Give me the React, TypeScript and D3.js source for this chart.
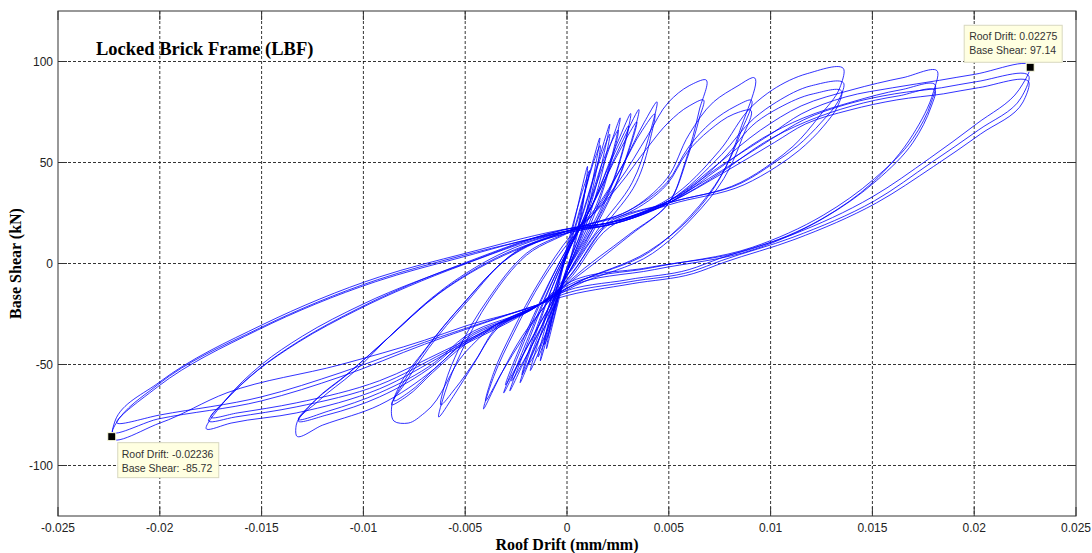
import React from 'react';
import * as d3 from 'd3';

type Pt = [number, number];

// axis ticks
const xTicks = [-0.025, -0.02, -0.015, -0.01, -0.005, 0, 0.005, 0.01, 0.015, 0.02, 0.025];
const xTickLabels = ['-0.025', '-0.02', '-0.015', '-0.01', '-0.005', '0', '0.005', '0.01', '0.015', '0.02', '0.025'];
const yTicks = [-100, -50, 0, 50, 100];
const yTickLabels = ['-100', '-50', '0', '50', '100'];

// load history, one array per cycle (roof drift, base shear in kN)
const cycle01: Pt[] = [[0.0000, -4], [0.0005, 14], [0.0008, 30], [0.0010, 48], [0.0007, 36], [0.0003, 18], [-0.0002, -2], [-0.0006, -20], [-0.0010, -42], [-0.0007, -30], [-0.0003, -14]];
const cycle02: Pt[] = [[0.0001, 0], [0.0005, 16], [0.0008, 32], [0.0011, 46], [0.0007, 34], [0.0002, 16], [-0.0003, -4], [-0.0007, -22], [-0.0011, -40], [-0.0008, -32], [-0.0003, -12]];
const cycle03: Pt[] = [[0.0000, -2], [0.0007, 16], [0.0012, 38], [0.0016, 62], [0.0012, 48], [0.0005, 22], [-0.0003, -4], [-0.0008, -24], [-0.0013, -48], [-0.0009, -34], [-0.0004, -16]];
const cycle04: Pt[] = [[0.0000, -4], [0.0007, 14], [0.0012, 34], [0.0016, 58], [0.0013, 50], [0.0006, 24], [-0.0002, -2], [-0.0008, -22], [-0.0014, -46], [-0.0010, -36], [-0.0004, -14]];
const cycle05: Pt[] = [[0.0000, -2], [0.0008, 18], [0.0016, 45], [0.0021, 69], [0.0014, 46], [0.0006, 20], [-0.0004, -6], [-0.0012, -32], [-0.0018, -53], [-0.0010, -34], [-0.0004, -16]];
const cycle06: Pt[] = [[0.0000, -4], [0.0009, 18], [0.0017, 44], [0.0021, 64], [0.0015, 48], [0.0007, 22], [-0.0003, -4], [-0.0012, -30], [-0.0019, -50], [-0.0011, -36], [-0.0005, -18]];
const cycle07: Pt[] = [[0.0000, -4], [0.0010, 18], [0.0019, 42], [0.0026, 72], [0.0019, 52], [0.0008, 22], [-0.0005, -6], [-0.0015, -34], [-0.0023, -59], [-0.0014, -38], [-0.0005, -18]];
const cycle08: Pt[] = [[0.0000, -4], [0.0011, 18], [0.0020, 44], [0.0025, 66], [0.0019, 54], [0.0009, 24], [-0.0004, -4], [-0.0015, -32], [-0.0022, -55], [-0.0015, -40], [-0.0006, -20]];
const cycle09: Pt[] = [[0.0000, -4], [0.0012, 18], [0.0023, 42], [0.0031, 74], [0.0024, 58], [0.0012, 28], [-0.0004, -2], [-0.0018, -36], [-0.0028, -63], [-0.0018, -42], [-0.0006, -18]];
const cycle10: Pt[] = [[0.0000, -6], [0.0013, 18], [0.0024, 44], [0.0030, 68], [0.0024, 56], [0.0011, 26], [-0.0005, -4], [-0.0018, -34], [-0.0027, -58], [-0.0019, -44], [-0.0007, -20]];
const cycle11: Pt[] = [[0.0000, -4], [0.0013, 18], [0.0026, 44], [0.0035, 76], [0.0027, 60], [0.0013, 30], [-0.0004, 0], [-0.0020, -36], [-0.0031, -64], [-0.0021, -44], [-0.0008, -20]];
const cycle12: Pt[] = [[0.0000, -6], [0.0014, 18], [0.0027, 46], [0.0034, 70], [0.0027, 58], [0.0012, 28], [-0.0005, -2], [-0.0020, -34], [-0.0030, -60], [-0.0022, -46], [-0.0009, -22]];
const cycle13: Pt[] = [[0.0000, -6], [0.0016, 18], [0.0032, 40], [0.0040, 62], [0.0044, 80], [0.0038, 70], [0.0028, 50], [0.0014, 26], [0.0002, 12], [-0.0012, -8], [-0.0026, -34], [-0.0036, -56], [-0.0041, -72], [-0.0033, -56], [-0.0022, -36], [-0.0010, -20]];
const cycle14: Pt[] = [[0.0000, -8], [0.0018, 18], [0.0034, 40], [0.0041, 62], [0.0043, 74], [0.0037, 66], [0.0027, 48], [0.0013, 26], [0.0002, 14], [-0.0013, -8], [-0.0027, -34], [-0.0036, -54], [-0.0040, -68], [-0.0032, -54], [-0.0021, -36], [-0.0010, -20]];
const cycle15: Pt[] = [[0.0002, -8], [0.0030, 14], [0.0050, 30], [0.0058, 50], [0.0065, 76], [0.0068, 91], [0.0060, 88], [0.0050, 80], [0.0040, 64], [0.0025, 40], [0.0008, 20], [-0.0020, 4], [-0.0038, -18], [-0.0052, -44], [-0.0060, -64], [-0.0063, -76], [-0.0056, -66], [-0.0046, -50], [-0.0034, -32], [-0.0013, -20]];
const cycle16: Pt[] = [[0.0003, -8], [0.0031, 14], [0.0050, 30], [0.0059, 52], [0.0065, 72], [0.0067, 81], [0.0060, 78], [0.0050, 70], [0.0040, 58], [0.0025, 38], [0.0008, 20], [-0.0020, 5], [-0.0039, -18], [-0.0053, -42], [-0.0060, -60], [-0.0062, -70], [-0.0055, -62], [-0.0045, -48], [-0.0034, -31], [-0.0013, -20]];
const cycle17: Pt[] = [[0.0004, -10], [0.0040, 6], [0.0060, 22], [0.0075, 42], [0.0085, 66], [0.0091, 92], [0.0084, 88], [0.0072, 80], [0.0060, 64], [0.0049, 42], [0.0030, 26], [0.0006, 18], [-0.0025, 6], [-0.0050, -20], [-0.0068, -42], [-0.0080, -60], [-0.0086, -70], [-0.0085, -78], [-0.0078, -79], [-0.0070, -74], [-0.0050, -44], [-0.0036, -31], [-0.0013, -20]];
const cycle18: Pt[] = [[0.0004, -10], [0.0041, 6], [0.0061, 24], [0.0076, 44], [0.0085, 64], [0.0090, 81], [0.0083, 78], [0.0071, 70], [0.0060, 58], [0.0049, 40], [0.0030, 26], [0.0006, 18], [-0.0026, 5], [-0.0051, -20], [-0.0069, -42], [-0.0081, -60], [-0.0086, -70], [-0.0079, -66], [-0.0066, -54], [-0.0050, -40], [-0.0036, -31], [-0.0013, -20]];
const cycle18b: Pt[] = [[0.0004, -11], [0.0042, 5], [0.0062, 23], [0.0077, 42], [0.0086, 62], [0.0090, 76], [0.0082, 74], [0.0070, 66], [0.0059, 55], [0.0049, 39], [0.0030, 25], [0.0006, 18], [-0.0027, 4], [-0.0052, -21], [-0.0070, -43], [-0.0082, -60], [-0.0085, -68], [-0.0078, -64], [-0.0065, -52], [-0.0050, -39], [-0.0036, -31], [-0.0013, -20]];
const cycle19: Pt[] = [[0.0000, -6], [0.0020, 20], [0.0050, 30], [0.0085, 40], [0.0101, 50], [0.0111, 58], [0.0124, 73], [0.0134, 87], [0.0136, 96], [0.0118, 94], [0.0101, 86], [0.0091, 78], [0.0075, 56], [0.0050, 32], [0.0020, 20], [0.0004, 17], [-0.0030, 6], [-0.0060, -12], [-0.0085, -34], [-0.0105, -54], [-0.0122, -68], [-0.0133, -80], [-0.0133, -85], [-0.0120, -80], [-0.0092, -70], [-0.0065, -52], [-0.0050, -38], [-0.0013, -20]];
const cycle20: Pt[] = [[0.0000, -8], [0.0020, 19], [0.0050, 30], [0.0086, 40], [0.0102, 50], [0.0113, 58], [0.0125, 70], [0.0133, 80], [0.0136, 89], [0.0120, 88], [0.0103, 80], [0.0092, 72], [0.0076, 54], [0.0050, 31], [0.0020, 19], [0.0004, 16], [-0.0030, 5], [-0.0062, -14], [-0.0087, -36], [-0.0107, -54], [-0.0124, -68], [-0.0132, -78], [-0.0118, -75], [-0.0092, -66], [-0.0065, -50], [-0.0050, -37], [-0.0013, -20]];
const cycle20b: Pt[] = [[0.0000, -9], [0.0021, 18], [0.0050, 29], [0.0087, 39], [0.0103, 48], [0.0114, 56], [0.0126, 68], [0.0133, 78], [0.0135, 85], [0.0121, 84], [0.0104, 77], [0.0093, 70], [0.0077, 52], [0.0050, 30], [0.0020, 19], [0.0004, 16], [-0.0031, 4], [-0.0063, -15], [-0.0088, -37], [-0.0108, -55], [-0.0125, -69], [-0.0132, -77], [-0.0117, -73], [-0.0092, -64], [-0.0065, -49], [-0.0050, -36], [-0.0013, -20]];
const cycle21: Pt[] = [[0.0000, -10], [0.0040, -2], [0.0090, 7], [0.0125, 22], [0.0150, 40], [0.0170, 64], [0.0180, 85], [0.0182, 95], [0.0165, 92], [0.0140, 86], [0.0115, 78], [0.0095, 66], [0.0075, 50], [0.0050, 31], [0.0020, 20], [0.0005, 18], [-0.0050, 0], [-0.0100, -20], [-0.0130, -36], [-0.0150, -50], [-0.0168, -68], [-0.0177, -82], [-0.0165, -79], [-0.0133, -74], [-0.0092, -62], [-0.0060, -45], [-0.0013, -20]];
const cycle22: Pt[] = [[0.0000, -11], [0.0042, -2], [0.0091, 8], [0.0126, 24], [0.0151, 42], [0.0170, 62], [0.0179, 80], [0.0181, 88], [0.0164, 86], [0.0140, 80], [0.0116, 72], [0.0096, 62], [0.0076, 48], [0.0050, 30], [0.0020, 20], [0.0005, 18], [-0.0051, 0], [-0.0102, -22], [-0.0131, -38], [-0.0151, -52], [-0.0168, -68], [-0.0176, -78], [-0.0163, -76], [-0.0133, -71], [-0.0092, -60], [-0.0060, -44], [-0.0013, -20]];
const cycle22b: Pt[] = [[0.0000, -12], [0.0043, -3], [0.0092, 7], [0.0127, 23], [0.0152, 41], [0.0170, 60], [0.0179, 78], [0.0181, 85], [0.0163, 83], [0.0140, 78], [0.0117, 70], [0.0097, 60], [0.0077, 46], [0.0050, 30], [0.0020, 19], [0.0005, 17], [-0.0052, -1], [-0.0103, -23], [-0.0132, -39], [-0.0152, -53], [-0.0168, -68], [-0.0175, -76], [-0.0162, -74], [-0.0133, -69], [-0.0092, -58], [-0.0060, -43], [-0.0013, -20]];
const cycle23: Pt[] = [[-0.0004, -15], [0.0030, -8], [0.0060, -3], [0.0075, 2.5], [0.0110, 14], [0.0150, 33], [0.0178, 52], [0.0201, 69], [0.0222, 86], [0.02275, 97.14], [0.0200, 93.6], [0.0183, 90.7], [0.0160, 87], [0.0137, 82.5], [0.0115, 74], [0.0100, 64], [0.0075, 48], [0.0050, 31], [0.0020, 20], [0.0005, 18], [-0.0050, 5], [-0.0092, -6.6], [-0.0150, -30.5], [-0.0200, -58.6], [-0.0222, -78], [-0.02236, -85.72], [-0.0200, -79], [-0.0167, -64], [-0.0111, -50], [-0.0070, -38], [-0.0050, -31], [-0.0013, -20]];
const cycle24: Pt[] = [[-0.0004, -16], [0.0031, -9], [0.0061, -4], [0.0076, 1.5], [0.0111, 13], [0.0151, 31], [0.0179, 50], [0.0202, 66], [0.0223, 82], [0.0227, 92], [0.0201, 90], [0.0184, 87], [0.0161, 84], [0.0138, 79], [0.0116, 71], [0.0101, 62], [0.0076, 46], [0.0050, 31], [0.0020, 20], [0.0005, 17], [-0.0051, 4], [-0.0093, -8], [-0.0151, -32], [-0.0201, -60], [-0.0222, -80], [-0.0223, -82], [-0.0201, -77], [-0.0150, -68], [-0.0111, -56], [-0.0070, -40], [-0.0013, -20]];
const cycle25: Pt[] = [[-0.0004, -17], [0.0032, -10], [0.0062, -5], [0.0077, 0.5], [0.0112, 12], [0.0152, 30], [0.0180, 48], [0.0203, 64], [0.0224, 80], [0.0227, 89], [0.0202, 87], [0.0185, 84], [0.0162, 81], [0.0139, 76], [0.0117, 69], [0.0102, 60], [0.0077, 45], [0.0050, 30], [0.0020, 19], [0.0005, 17], [-0.0052, 3], [-0.0094, -9], [-0.0152, -33], [-0.0201, -61], [-0.0221, -79], [-0.0200, -75], [-0.0150, -66], [-0.0111, -54], [-0.0070, -39], [-0.0013, -20]];

const history = [cycle01, cycle02, cycle03, cycle04, cycle05, cycle06, cycle07, cycle08, cycle09, cycle10, cycle11, cycle12, cycle13, cycle14, cycle15, cycle16, cycle17, cycle18, cycle18b, cycle19, cycle20, cycle20b, cycle21, cycle22, cycle22b, cycle23, cycle24, cycle25];

// data tips
const tipMax: Pt = [0.02275, 97.14];
const tipMin: Pt = [-0.02236, -85.72];

const W = 1092;
const H = 553;
const left = 58, right = 1076, top = 11, bottom = 516;

export default function App() {
  const x = d3.scaleLinear().domain([-0.025, 0.025]).range([left, right]);
  const y = d3.scaleLinear().domain([-125, 125]).range([bottom, top]);

  const line = d3.line<Pt>()
    .x(d => x(d[0]))
    .y(d => y(d[1]))
    .curve(d3.curveCatmullRom.alpha(1));

  const allPts: Pt[] = ([] as Pt[]).concat(...history);

  const tickLen = 9;
  const maxX = x(tipMax[0]), maxY = y(tipMax[1]);
  const minX = x(tipMin[0]), minY = y(tipMin[1]);
  const sans = 'Liberation Sans, Arial, sans-serif';
  const serif = 'Liberation Serif, Times New Roman, serif';

  return (
    <svg width={W} height={H} style={{ position: 'absolute', left: 0, top: 0, background: '#fff' }}>
      <rect x={0} y={0} width={W} height={H} fill="#fff" />

      {/* grid */}
      {xTicks.slice(1, -1).map(t => (
        <line key={'gx' + t} x1={x(t)} x2={x(t)} y1={top} y2={bottom} stroke="#000" strokeWidth={0.8} strokeDasharray="3,2" />
      ))}
      {yTicks.map(t => (
        <line key={'gy' + t} x1={left} x2={right} y1={y(t)} y2={y(t)} stroke="#000" strokeWidth={0.8} strokeDasharray="3,2" />
      ))}

      {/* hysteresis */}
      <path d={line(allPts) || ''} fill="none" stroke="#0000ff" strokeWidth={0.95} strokeOpacity={0.85} strokeLinejoin="round" />

      {/* box and ticks */}
      <rect x={left} y={top} width={right - left} height={bottom - top} fill="none" stroke="#333" strokeWidth={1} />
      {xTicks.map(t => (
        <g key={'tx' + t}>
          <line x1={x(t)} x2={x(t)} y1={bottom} y2={bottom - tickLen} stroke="#333" />
          <line x1={x(t)} x2={x(t)} y1={top} y2={top + tickLen} stroke="#333" />
        </g>
      ))}
      {yTicks.map(t => (
        <g key={'ty' + t}>
          <line x1={left} x2={left + tickLen} y1={y(t)} y2={y(t)} stroke="#333" />
          <line x1={right} x2={right - tickLen} y1={y(t)} y2={y(t)} stroke="#333" />
        </g>
      ))}

      {/* tick labels */}
      {xTicks.map((t, i) => (
        <text key={'lx' + t} x={x(t)} y={bottom + 16} textAnchor="middle" fontFamily={sans} fontSize={12} fill="#222">
          {xTickLabels[i]}
        </text>
      ))}
      {yTicks.map((t, i) => (
        <text key={'ly' + t} x={left - 5} y={y(t) + 4} textAnchor="end" fontFamily={sans} fontSize={12} fill="#222">
          {yTickLabels[i]}
        </text>
      ))}

      {/* axis labels and title */}
      <text x={(left + right) / 2} y={550} textAnchor="middle" fontFamily={serif} fontWeight="bold" fontSize={16} fill="#000">
        Roof Drift (mm/mm)
      </text>
      <text transform={`translate(21,${(top + bottom) / 2}) rotate(-90)`} textAnchor="middle" fontFamily={serif} fontWeight="bold" fontSize={16} fill="#000">
        Base Shear (kN)
      </text>
      <text x={96} y={55} fontFamily={serif} fontWeight="bold" fontSize={18.5} fill="#000">
        Locked Brick Frame (LBF)
      </text>

      {/* data tip: max */}
      <rect x={maxX - 66} y={maxY - 42} width={98} height={37} fill="#ffffe1" stroke="#d8d8c0" />
      <text x={maxX - 61} y={maxY - 27} fontFamily={sans} fontSize={10.5} fill="#333">Roof Drift: 0.02275</text>
      <text x={maxX - 61} y={maxY - 13} fontFamily={sans} fontSize={10.5} fill="#333">Base Shear: 97.14</text>
      <rect x={maxX - 4} y={maxY - 4} width={8} height={8} fill="#000" stroke="#ffffe1" strokeWidth={1} />

      {/* data tip: min */}
      <rect x={minX + 6} y={minY + 6} width={101} height={35} fill="#ffffe1" stroke="#d8d8c0" />
      <text x={minX + 10} y={minY + 21} fontFamily={sans} fontSize={10.5} fill="#333">Roof Drift: -0.02236</text>
      <text x={minX + 10} y={minY + 35} fontFamily={sans} fontSize={10.5} fill="#333">Base Shear: -85.72</text>
      <rect x={minX - 4} y={minY - 4} width={8} height={8} fill="#000" stroke="#ffffe1" strokeWidth={1} />
    </svg>
  );
}
